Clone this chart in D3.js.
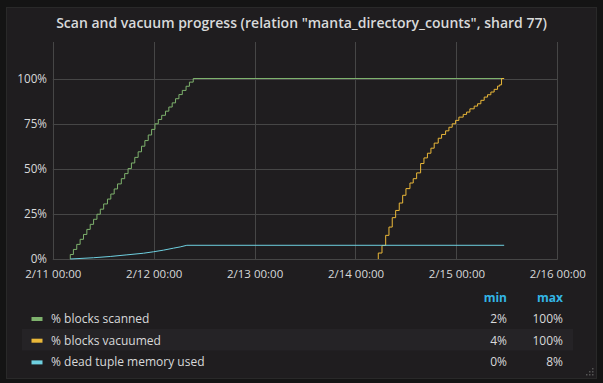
<!DOCTYPE html>
<html><head><meta charset="utf-8">
<script src="https://cdn.jsdelivr.net/npm/d3@7/dist/d3.min.js"></script>
<style>
html,body{margin:0;padding:0;background:#141414;}
svg{display:block;}
text{font-family:"Open Sans",sans-serif;}
</style></head><body>
<svg id="chart" width="603" height="383"></svg>
<script>
// ---------- data ----------
const chartTitle = 'Scan and vacuum progress (relation "manta_directory_counts", shard 77)';
const startDate = "2017-02-11T00:00:00Z";
const endDate = "2017-02-16T00:00:00Z";
const yTickValues = [0, 25, 50, 75, 100];

const seriesNames = ["% blocks scanned", "% blocks vacuumed", "% dead tuple memory used"];
const seriesColors = ["#7eb26d", "#eab839", "#6ed0e0"];
const legendMin = ["2%", "4%", "0%"];
const legendMax = ["100%", "100%", "8%"];

// hours after 2/11 00:00
const scannedHours = [4.14, 4.16, 4.9, 5.7, 6.5, 7.3, 8.1, 8.9, 9.7, 10.5, 11.3, 12.1, 13.0, 13.8, 14.6, 15.4, 16.3, 17.1, 17.9,
  18.7, 19.5, 20.3, 21.1, 21.9, 22.7, 23.5, 24.3, 25.1, 25.9, 26.8, 27.6, 28.4, 29.2, 30.0, 30.8, 31.7, 32.5, 33.4, 107.3];
const scannedValues = [0, 2.5, 5.3, 8.1, 10.9, 13.6, 16.4, 19.2, 22.0, 24.8, 27.6, 30.5, 33.2, 36.0, 38.8, 41.6, 44.5, 47.3, 50.1,
  53.2, 56.3, 59.4, 62.5, 65.6, 68.7, 71.8, 74.9, 77.3, 79.6, 81.9, 84.2, 86.5, 88.8, 91.1, 93.4, 95.7, 98.0, 100, 100];

const vacuumHours = [77.40, 77.42, 78.30, 79.18, 79.96, 80.74, 81.55, 82.41, 83.22, 84.00, 84.95, 85.73, 86.54, 87.49, 88.28,
  89.11, 89.94, 90.72, 91.68, 92.48, 93.43, 94.22, 95.00, 95.81, 96.59, 97.62, 98.42, 99.21, 100.23, 101.04, 101.82,
  102.61, 103.41, 104.20, 104.98, 105.79, 106.30, 106.74, 107.36];
const vacuumValues = [0, 3.3, 7.5, 13.1, 17.7, 22.9, 26.9, 31.0, 35.3, 39.0, 42.1, 44.5, 47.7, 52.9, 56.0,
  58.6, 61.4, 64.2, 66.9, 69.0, 71.0, 73.0, 74.9, 76.8, 78.6, 80.1, 81.4, 83.2, 84.7, 86.0, 87.9,
  89.7, 91.0, 92.5, 94.0, 95.8, 96.5, 100, 100];

const memoryHours = [4.16, 9.70, 13.66, 17.63, 21.58, 23.95, 26.33, 28.71, 30.3, 31.89, 107.36];
const memoryValues = [0, 0.7, 1.4, 2.3, 3.2, 4.0, 4.9, 6.0, 6.7, 7.6, 7.6];

// ---------- drawing ----------
const svg = d3.select("#chart");
const base = new Date(startDate).getTime();
const toDate = h => new Date(base + h * 3600000);

// panel
svg.append("rect").attr("x", 6.5).attr("y", 7.5).attr("width", 590).attr("height", 371)
  .attr("fill", "#1f1d1f").attr("stroke", "#292929");

svg.append("text").attr("x", 301.5).attr("y", 28).attr("text-anchor", "middle")
  .attr("fill", "#d8d9da").attr("font-size", 14).attr("font-weight", 600).text(chartTitle);

const x = d3.scaleUtc().domain([new Date(startDate), new Date(endDate)]).range([52.8, 557.3]);
const y = d3.scaleLinear().domain([0, 120]).range([259, 42.4]);

const grid = svg.append("g");
const days = x.ticks(d3.utcDay.every(1));
grid.selectAll("line.v").data(days).join("line")
  .attr("x1", d => Math.round(x(d)) + 0.5).attr("x2", d => Math.round(x(d)) + 0.5)
  .attr("y1", 42).attr("y2", 259).attr("stroke", "#464646").attr("stroke-width", 1);
grid.selectAll("line.h").data(yTickValues).join("line")
  .attr("x1", 52.8).attr("x2", 557.8)
  .attr("y1", d => Math.round(y(d)) + 0.5).attr("y2", d => Math.round(y(d)) + 0.5)
  .attr("stroke", "#464646").attr("stroke-width", 1);

// axes (via d3 axis generators, domain/tick lines hidden)
const fmt = d3.utcFormat("%-m/%d %H:%M");
const xAxis = svg.append("g").attr("transform", "translate(0,264)")
  .call(d3.axisBottom(x).tickValues(days).tickFormat(fmt).tickSize(0).tickPadding(0));
xAxis.select(".domain").remove();
xAxis.selectAll("text").attr("fill", "#d8d9da").attr("font-size", 11.5).attr("font-family", '"Open Sans",sans-serif').attr("dy", "0.71em").attr("y", 5.5);

const yAxis = svg.append("g").attr("transform", "translate(47,0)")
  .call(d3.axisLeft(y).tickValues(yTickValues).tickFormat(d => d + "%").tickSize(0).tickPadding(0));
yAxis.select(".domain").remove();
yAxis.selectAll("text").attr("fill", "#d8d9da").attr("font-size", 11.7).attr("font-family", '"Open Sans",sans-serif').attr("dy", "0.3em");

// series
const seriesData = [
  scannedHours.map((h, i) => ({ t: toDate(h), v: scannedValues[i] })),
  vacuumHours.map((h, i) => ({ t: toDate(h), v: vacuumValues[i] })),
  memoryHours.map((h, i) => ({ t: toDate(h), v: memoryValues[i] }))
];
const curves = [d3.curveStepAfter, d3.curveStepAfter, d3.curveLinear];
seriesData.forEach((data, i) => {
  const line = d3.line().x(d => x(d.t)).y(d => y(d.v)).curve(curves[i]);
  svg.append("path").datum(data).attr("d", line).attr("fill", "none")
    .attr("stroke", seriesColors[i]).attr("stroke-width", 1);
});

// legend
const lg = svg.append("g");
lg.append("rect").attr("x", 22).attr("y", 329).attr("width", 551).attr("height", 21.5).attr("fill", "#252326");
lg.append("text").attr("x", 507).attr("y", 302).attr("text-anchor", "end").attr("fill", "#33b5e5")
  .attr("font-size", 12).attr("font-weight", 700).text("min");
lg.append("text").attr("x", 563).attr("y", 302).attr("text-anchor", "end").attr("fill", "#33b5e5")
  .attr("font-size", 12).attr("font-weight", 700).text("max");
seriesNames.forEach((name, i) => {
  const cy = 318.5 + i * 21.7;
  lg.append("rect").attr("x", 31.5).attr("y", cy - 1.5).attr("width", 11).attr("height", 4).attr("fill", seriesColors[i]);
  lg.append("text").attr("x", 51).attr("y", cy + 4.5).attr("fill", "#d8d9da").attr("font-size", 12).text(name);
  lg.append("text").attr("x", 507).attr("y", cy + 4.5).attr("text-anchor", "end").attr("fill", "#d8d9da").attr("font-size", 12).text(legendMin[i]);
  lg.append("text").attr("x", 563).attr("y", cy + 4.5).attr("text-anchor", "end").attr("fill", "#d8d9da").attr("font-size", 12).text(legendMax[i]);
});

// resize grip
const grip = [[592, 374], [589, 374], [586, 374], [592, 371], [589, 371], [592, 368]];
svg.append("g").selectAll("rect").data(grip).join("rect")
  .attr("x", d => d[0]).attr("y", d => d[1]).attr("width", 1.5).attr("height", 1.5).attr("fill", "#555");
</script>
</body></html>
